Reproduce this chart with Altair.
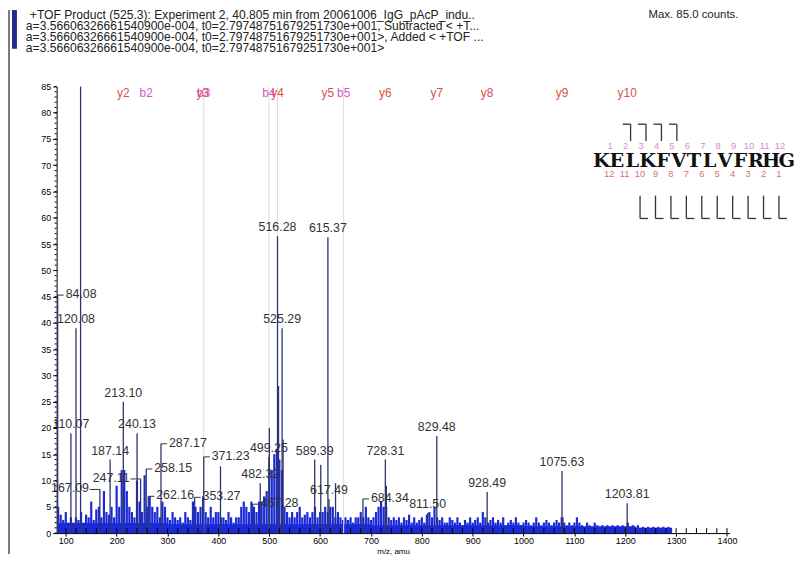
import altair as alt
import pandas as pd

# ---------------- data ----------------
# labelled peaks, label centred above the peak
labeled_mz = [110.07, 120.08, 187.14, 213.10, 240.13, 482.32, 499.25, 516.28, 525.29,
              589.39, 615.37, 617.49, 728.31, 811.50, 829.48, 928.49, 1075.63, 1203.81]
labeled_int = [19.0, 39.0, 14.0, 25.0, 19.0, 9.5, 14.5, 56.5, 39.0,
               14.0, 56.3, 6.5, 14.0, 3.8, 18.5, 7.8, 11.8, 5.7]
# labelled peaks whose label sits to the right (with a leader)
right_mz = [84.08, 258.15, 262.16, 287.17, 353.27, 371.23, 467.28, 684.34]
right_int = [45.3, 12.2, 7.0, 17.0, 6.8, 14.5, 5.5, 6.5]
# labelled peaks whose label sits to the left (with a leader)
left_mz = [167.09, 247.11]
left_int = [8.3, 10.3]
# strong peaks without a label
other_mz = [129.1, 404.2, 500.3, 518.3, 527.3, 601.3, 630.4, 730.3, 1077.6]
other_int = [85.0, 12.7, 20.0, 28.0, 17.8, 13.0, 9.5, 9.0, 3.0]

# background noise, one value every 5 m/z starting at 85
noise_start = 85
noise_step = 5
noise_int = (
    [5, 3.5, 2.5, 4, 2, 3, 2, 3, 2.5, 4, 2, 3.5, 3]
    + [6, 2.5, 4.5, 5, 3, 8, 4, 3.5, 5, 3, 9, 5, 12, 12, 8, 5, 4, 3, 10, 6]
    + [4, 11, 5, 7, 5, 4, 5, 3, 6, 5, 3, 2.5, 4, 3, 2.5, 3, 2, 4, 3, 2.5]
    + [6, 5, 4, 5, 7, 4, 3, 5, 3, 4, 4, 3, 3, 2.5, 4, 3, 2, 3, 3, 5]
    + [6, 5, 4, 6, 5, 4, 6, 6, 7, 8, 12, 12, 15, 16, 14, 12, 5, 4, 3, 4]
    + [3, 4, 5, 3, 3.5, 4, 3, 4, 5, 3, 4, 4, 5, 4, 5, 5, 3, 4, 3, 2.5]
    + [3, 2.5, 3, 2, 3, 3, 4, 3, 5, 3, 2.5, 3, 4, 5, 6, 5, 5, 3, 2.5, 3]
    + [2.5, 3, 2, 3, 2.5, 3.5, 2, 3, 2, 2.5, 3, 2, 3.5, 4, 3, 5, 3, 2.5, 3, 2]
    + [2, 3, 2.5, 2, 3, 2, 1.5, 2.5, 2, 3, 2, 2.5, 3, 2, 4, 3, 2, 2.5, 3, 2]
    + [2.5, 2, 3, 1.5, 2, 2.5, 2, 3, 2, 1.5, 2, 2.5, 2, 1.5, 2, 3, 2, 1.5, 2, 2.5]
    + [2, 1.5, 2, 2.5, 2, 3, 2, 1.5, 2, 1.5, 2, 3, 2, 1.5, 1.2, 2, 1.5, 1.2, 2, 1.5]
    + [1.2, 1.5, 1.2, 1.5, 1.2, 1.5, 1.2, 1.5, 1.2, 1.5, 1.2, 2, 1.2, 1.5, 1.2, 1.5, 1, 1.2, 1, 1.2]
    + [1, 1.2, 1, 1.2, 1, 1.2, 1, 1.2, 1]
)
# continuous noise floor (segments)
floor_start = [83, 300, 700, 1000, 1220]
floor_end = [300, 700, 1000, 1220, 1290]
floor_int = [1.9, 1.7, 1.5, 1.3, 1.0]

# fragment ion annotations at the top
frag_names = ["y2", "b2", "y3", "b3", "b4", "y4", "y5", "b5", "y6", "y7", "y8", "y9", "y10"]
frag_mz = [213.10, 258.15, 369.2, 371.2, 499.25, 516.28, 615.37, 646.3, 728.31, 829.48,
           928.49, 1075.63, 1203.81]
gray_line_mz = [371.23, 499.25, 516.28, 646.3]

# peptide sequence diagram
sequence = "KELKFVTLVFRHG"
b_marks = [2, 3, 4, 5]
y_marks = [1, 2, 3, 4, 5, 6, 7, 8, 9, 10]

header_lines = [
    "+TOF Product (525.3): Experiment 2, 40.805 min from 20061006_IgG_pAcP_indu..",
    "a=3.56606326661540900e-004, t0=2.79748751679251730e+001, Subtracted < +T...",
    "a=3.56606326661540900e-004, t0=2.79748751679251730e+001>, Added < +TOF ...",
    "a=3.56606326661540900e-004, t0=2.79748751679251730e+001>",
]
max_text = "Max. 85.0 counts."

# ---------------- layout ----------------
W, H = 678, 450
OX, OY = 57, 85          # page position of the plot origin
X_DOMAIN = [82, 1405]
Y_DOMAIN = [0, 85]
BLUE = "#1a2ad6"
PEAK = "#2e3472"
FONT = "Liberation Sans"

xs = alt.Scale(domain=X_DOMAIN, nice=False, zero=False)
ys = alt.Scale(domain=Y_DOMAIN, nice=False, zero=True)

x_axis = alt.Axis(values=list(range(100, 1401, 100)), format="d", title="m/z, amu",
                  labelFontSize=9, labelFont=FONT, labelColor="#000", tickSize=3,
                  tickColor="#000", domainColor="#000", grid=False, labelPadding=1,
                  titleFontSize=8, titleFont=FONT, titleFontWeight="normal",
                  titlePadding=2, titleColor="#000", labelFlush=False)
y_axis = alt.Axis(values=list(range(0, 86, 5)), format="d", title="",
                  labelFontSize=9, labelFont=FONT, labelColor="#000", tickSize=4,
                  tickColor="#000", domainColor="#000", grid=False, labelPadding=2)


def X(field="mz"):
    return alt.X(f"{field}:Q", scale=xs, axis=x_axis)


def Y(field="i"):
    return alt.Y(f"{field}:Q", scale=ys, axis=y_axis)


def PX(field="px"):
    return alt.X(f"{field}:Q", scale=None, axis=None)


def PY(field="py"):
    return alt.Y(f"{field}:Q", scale=None, axis=None)


noise_df = pd.DataFrame({
    "mz": [noise_start + noise_step * k for k in range(len(noise_int))],
    "i": noise_int,
})
noise_df["base"] = 0.0
floor_df = pd.DataFrame({"mz": floor_start, "e": floor_end, "i": floor_int})
floor_df["base"] = 0.0

lab_df = pd.DataFrame({"mz": labeled_mz, "i": labeled_int})
lab_df["t"] = [f"{v:.2f}" for v in labeled_mz]
lab_df["base"] = 0.0
r_df = pd.DataFrame({"mz": right_mz, "i": right_int})
r_df["t"] = [f"{v:.2f}" for v in right_mz]
r_df["base"] = 0.0
l_df = pd.DataFrame({"mz": left_mz, "i": left_int})
l_df["t"] = [f"{v:.2f}" for v in left_mz]
l_df["base"] = 0.0
o_df = pd.DataFrame({"mz": other_mz, "i": other_int})
o_df["base"] = 0.0

frag_df = pd.DataFrame({"mz": frag_mz, "t": frag_names,
                        "kind": [n[0] for n in frag_names]})
gray_df = pd.DataFrame({"mz": gray_line_mz})
gray_df["lo"] = 0.0
gray_df["hi"] = 85.0

layers = []

# noise (carries the axes)
layers.append(alt.Chart(noise_df).mark_rule(color=BLUE, strokeWidth=2.2).encode(
    x=X(), y=Y(), y2="base:Q"))
layers.append(alt.Chart(floor_df).mark_rect(color=BLUE).encode(
    x=X(), x2="e:Q", y=Y(), y2="base:Q"))

# gray fragment lines
layers.append(alt.Chart(gray_df).mark_rule(color="#dcdcdc", strokeWidth=1).encode(
    x=X(), y=Y("lo"), y2="hi:Q"))

# strong peaks
for d in (o_df, lab_df, r_df, l_df):
    layers.append(alt.Chart(d).mark_rule(color=PEAK, strokeWidth=1.3).encode(
        x=X(), y=Y(), y2="base:Q"))

txt = dict(font=FONT, fontSize=12.5, color="#333333")
# labels above peaks
layers.append(alt.Chart(lab_df).mark_text(baseline="bottom", dy=-2, **txt).encode(
    x=X(), y=Y(), text="t:N"))
# labels to the right with leader
layers.append(alt.Chart(r_df).transform_calculate(e="datum.mz + 12").mark_rule(
    color="#333", strokeWidth=1).encode(x=X(), x2="e:Q", y=Y()))
layers.append(alt.Chart(r_df).mark_text(align="left", baseline="middle", dx=8, dy=-1, **txt).encode(
    x=X(), y=Y(), text="t:N"))
# labels to the left with leader
layers.append(alt.Chart(l_df).transform_calculate(e="datum.mz - 20").mark_rule(
    color="#333", strokeWidth=1).encode(x=X(), x2="e:Q", y=Y()))
layers.append(alt.Chart(l_df).mark_text(align="right", baseline="middle", dx=-11, dy=-1, **txt).encode(
    x=X(), y=Y(), text="t:N"))

# fragment ion names
layers.append(alt.Chart(frag_df).mark_text(font=FONT, fontSize=12, baseline="middle").encode(
    x=X(), y=alt.value(92 - OY), text="t:N",
    color=alt.Color("kind:N", scale=alt.Scale(domain=["y", "b"], range=["#dd4f4a", "#d558c8"]),
                    legend=None)))

# minor ticks
ytick_df = pd.DataFrame({"v": list(range(0, 86))})
layers.append(alt.Chart(ytick_df).mark_rule(color="#000", strokeWidth=1).encode(
    y=alt.Y("v:Q", scale=ys, axis=y_axis), x=alt.value(-2), x2=alt.value(0)))
xtick_df = pd.DataFrame({"v": list(range(100, 1401, 20))})
layers.append(alt.Chart(xtick_df).mark_rule(color="#000", strokeWidth=1).encode(
    x=alt.X("v:Q", scale=xs, axis=x_axis), y=alt.value(H), y2=alt.value(H - 5)))

# ---------------- peptide diagram (pixel layout) ----------------
pep_x0, pep_step = 606 - OX, 15.55
letters = pd.DataFrame({"t": list(sequence)})
letters["px"] = [pep_x0 + k * pep_step for k in range(len(sequence))]
letters["py"] = 160 - OY
layers.append(alt.Chart(letters).mark_text(font="DejaVu Serif", fontWeight="bold", fontSize=19.5,
                                           color="#111", baseline="middle").encode(
    x=PX(), y=PY(), text="t:N"))


def bx(k):
    return pep_x0 + (k - 0.5) * pep_step


top_nums = pd.DataFrame({"t": [str(k) for k in range(1, 13)]})
top_nums["px"] = [bx(k) + 1 for k in range(1, 13)]
top_nums["py"] = 145 - OY
bot_nums = pd.DataFrame({"t": [str(13 - k) for k in range(1, 13)]})
bot_nums["px"] = [bx(k) for k in range(1, 13)]
bot_nums["py"] = 173 - OY
layers.append(alt.Chart(top_nums).mark_text(font=FONT, fontSize=9.5, color="#d98ad0",
                                            baseline="middle").encode(x=PX(), y=PY(), text="t:N"))
layers.append(alt.Chart(bot_nums).mark_text(font=FONT, fontSize=9.5, color="#d8706c",
                                            baseline="middle").encode(x=PX(), y=PY(), text="t:N"))

seg = []
for k in b_marks:
    v = bx(k) + 6
    seg.append({"px": v, "px2": v, "py": 123 - OY, "py2": 140 - OY})
    seg.append({"px": v - 8, "px2": v, "py": 123 - OY, "py2": 123 - OY})
for k in y_marks:
    v = bx(13 - k)
    seg.append({"px": v, "px2": v, "py": 195 - OY, "py2": 218 - OY})
    seg.append({"px": v, "px2": v + 8, "py": 218 - OY, "py2": 218 - OY})
# outer frame line (left)
seg.append({"px": 9 - OX, "px2": 9 - OX, "py": 8 - OY, "py2": 556 - OY})
seg_df = pd.DataFrame(seg)
layers.append(alt.Chart(seg_df).mark_rule(color="#333", strokeWidth=1.3).encode(
    x=PX(), x2="px2:Q", y=PY(), y2="py2:Q"))

# ---------------- header ----------------
head_df = pd.DataFrame({"t": header_lines})
head_df["px"] = [30 - OX] + [26 - OX] * 3
head_df["py"] = [13 - OY + 11 * k for k in range(4)]
layers.append(alt.Chart(head_df).mark_text(font=FONT, fontSize=12.2, color="#222",
                                           align="left", baseline="middle").encode(
    x=PX(), y=PY(), text="t:N"))
max_df = pd.DataFrame({"t": [max_text], "px": [744 - OX], "py": [13 - OY]})
layers.append(alt.Chart(max_df).mark_text(font=FONT, fontSize=11.5, color="#222",
                                          align="right", baseline="middle").encode(
    x=PX(), y=PY(), text="t:N"))
bar_df = pd.DataFrame({"px": [14.5 - OX], "py": [8 - OY], "py2": [47 - OY]})
layers.append(alt.Chart(bar_df).mark_rule(color="#1f2a8a", strokeWidth=5).encode(
    x=PX(), y=PY(), y2="py2:Q"))

chart = alt.layer(*layers).properties(
    width=W, height=H,
    background="white",
    autosize=alt.AutoSizeParams(type="none"),
    padding={"left": OX - 8, "top": OY - 8, "right": 794 - (OX - 8) - W, "bottom": 547 - (OY - 8) - H},
).configure_view(strokeWidth=0)

chart.save("out.html", embed_options={"renderer": "svg", "actions": False})
